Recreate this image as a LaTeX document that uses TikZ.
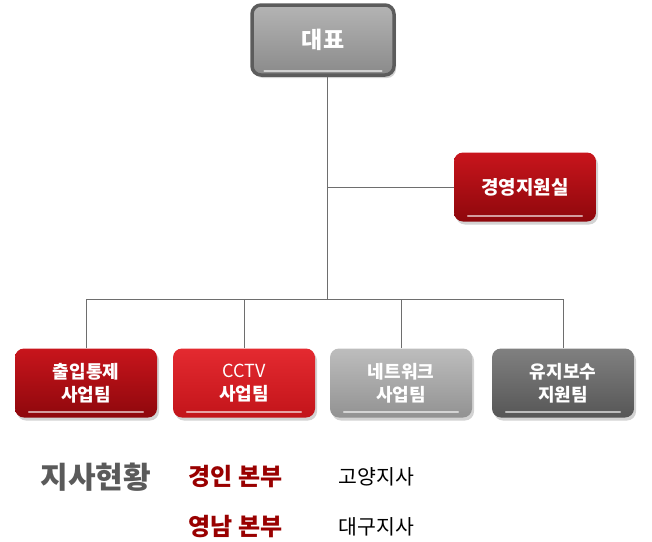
\documentclass[tikz,border=0pt]{standalone}
\usepackage{fontspec}
\newfontfamily\kr{Noto Sans CJK KR}
\usetikzlibrary{shadows,calc}
\definecolor{redtop}{HTML}{C8151C}
\definecolor{redbot}{HTML}{8E070C}
\definecolor{brighttop}{HTML}{E42A30}
\definecolor{brightbot}{HTML}{C2141A}
\definecolor{greytop}{HTML}{BDBDBD}
\definecolor{greybot}{HTML}{929292}
\definecolor{darktop}{HTML}{808080}
\definecolor{darkbot}{HTML}{565656}
\definecolor{ceotop}{HTML}{B4B4B4}
\definecolor{ceobot}{HTML}{8A8A8A}
\definecolor{ceorim}{HTML}{5C5C5C}
\definecolor{wire}{HTML}{6E6E6E}
\definecolor{branch}{HTML}{990000}
\definecolor{headgrey}{HTML}{5A5A5A}
\tikzset{
  orgbox/.style={rounded corners=9pt,minimum width=142pt,minimum height=69pt,
    align=center,text=white,font=\kr\bfseries\fontsize{18}{23}\selectfont,
    drop shadow={shadow xshift=2pt,shadow yshift=-3pt,opacity=.35}},
  redbox/.style={orgbox,top color=redtop,bottom color=redbot},
  brightbox/.style={orgbox,top color=brighttop,bottom color=brightbot},
  greybox/.style={orgbox,top color=greytop,bottom color=greybot},
  darkbox/.style={orgbox,top color=darktop,bottom color=darkbot},
  gloss/.style={white,opacity=.6,line width=1.6pt,line cap=round},
  wirestyle/.style={wire,line width=.8pt},
}
\begin{document}
\begin{tikzpicture}[x=1pt,y=-1pt]
\useasboundingbox (0,0) rectangle (652,541);
% top
\node[orgbox,minimum width=142pt,minimum height=70pt,top color=ceotop,bottom color=ceobot,
  draw=ceorim,line width=3.5pt,font=\kr\bfseries\fontsize{23}{26}\selectfont] at (323,40) (ceo) {대표};
\node[redbox,font=\kr\bfseries\fontsize{19}{22}\selectfont] at (525,187) (mgmt) {경영지원실};
% teams
\node[redbox] at (86,383) (access) {출입통제\\사업팀};
\node[brightbox] at (244,383) (cctv) {{\mdseries CCTV}\\사업팀};
\node[greybox] at (401,383) (network) {네트워크\\사업팀};
\node[darkbox] at (563,383) (support) {유지보수\\지원팀};
% highlights
\foreach \b in {ceo,mgmt,access,cctv,network,support}
  \draw[gloss] ($(\b.south west)+(14,-6)$) -- ($(\b.south east)+(-14,-6)$);
% connectors
\coordinate (bus) at (327,299);
\draw[wirestyle] ([xshift=4pt]ceo.south) -- (bus);
\draw[wirestyle] (bus |- mgmt.west) -- (mgmt.west);
\draw[wirestyle] (access.north) |- (support.north |- bus) -- (support.north);
\draw[wirestyle] (cctv.north) -- (cctv.north |- bus);
\draw[wirestyle] (network.north) -- (network.north |- bus);
% branches
\node[anchor=west,text=headgrey,font=\kr\bfseries\fontsize{30}{32}\selectfont] at (37,477) (head) {지사현황};
\node[anchor=west,text=branch,font=\kr\bfseries\fontsize{24}{26}\selectfont] at (185,477) (gyeongin) {경인 본부};
\node[anchor=west,text=branch,font=\kr\bfseries\fontsize{24}{26}\selectfont] at (185,527) (yeongnam) {영남 본부};
\node[anchor=west,font=\kr\fontsize{20.5}{23}\selectfont] at (335,477) (goyang) {고양지사};
\node[anchor=west,font=\kr\fontsize{20.5}{23}\selectfont] at (335,527) (daegu) {대구지사};
\end{tikzpicture}
\end{document}
